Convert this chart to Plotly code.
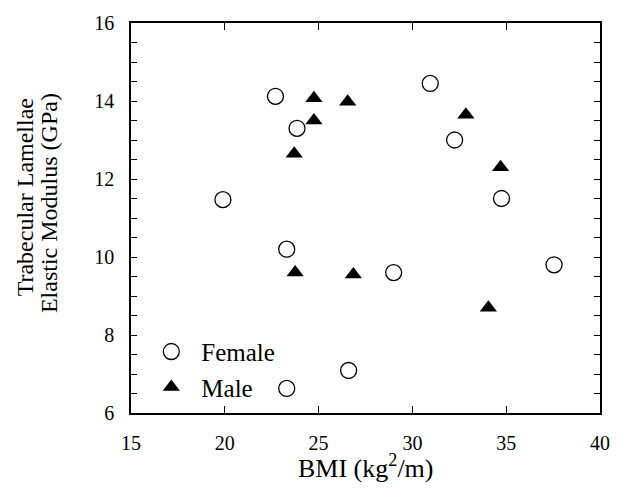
import plotly.graph_objects as go

female_bmi = [19.9, 22.7, 23.85, 23.3, 23.3, 26.6, 29.0, 30.95, 32.25, 34.75, 37.55]
female_mod = [11.47, 14.12, 13.3, 10.2, 6.63, 7.09, 9.6, 14.45, 13.0, 11.5, 9.8]
male_bmi = [24.75, 26.55, 24.75, 23.7, 23.75, 26.85, 32.85, 34.7, 34.05]
male_mod = [14.07, 13.98, 13.5, 12.65, 9.6, 9.55, 13.65, 12.3, 8.7]

x_ticks = [15, 20, 25, 30, 35, 40]
x_labels = ["15", "20", "25", "30", "35", "40"]
y_ticks = [6, 6.5, 7, 7.5, 8, 8.5, 9, 9.5, 10, 10.5, 11, 11.5, 12, 12.5, 13, 13.5, 14, 14.5, 15, 15.5, 16]
y_labels = ["6", "", "", "", "8", "", "", "", "10", "", "", "", "12", "", "", "", "14", "", "", "", "16"]

FONT = "Liberation Serif, Times New Roman, serif"

fig = go.Figure()
fig.add_trace(go.Scatter(
    x=female_bmi, y=female_mod, mode="markers", name="Female",
    marker=dict(symbol="circle-open", size=16, color="black", line=dict(width=1.3)),
))
fig.add_trace(go.Scatter(
    x=male_bmi, y=male_mod, mode="markers", name="Male",
    marker=dict(symbol="triangle-up", size=15, color="black"),
))

fig.update_layout(
    width=624, height=490,
    margin=dict(l=131, r=24, t=17, b=77),
    paper_bgcolor="white", plot_bgcolor="white",
    font=dict(family=FONT, size=20, color="black"),
    showlegend=True,
    legend=dict(x=0.022, y=0.216, xanchor="left", yanchor="top",
                bgcolor="rgba(0,0,0,0)", font=dict(size=25, family=FONT),
                itemwidth=50),
    xaxis=dict(range=[15, 40], tickvals=x_ticks, ticktext=x_labels,
               ticks="inside", ticklen=7, tickwidth=1.2, tickcolor="black",
               showline=True, linecolor="black", linewidth=1.6, mirror="allticks",
               showgrid=False, zeroline=False, ticklabelstandoff=11,
               tickfont=dict(size=20)),
    yaxis=dict(range=[6, 16], tickvals=y_ticks, ticktext=y_labels,
               ticks="inside", ticklen=6, tickwidth=1.2, tickcolor="black",
               showline=True, linecolor="black", linewidth=1.6, mirror="allticks",
               showgrid=False, zeroline=False, ticklabelstandoff=11,
               tickfont=dict(size=20)),
)

fig.add_annotation(text="BMI (kg<sup>2</sup>/m)", xref="paper", yref="paper",
                   x=0.5, y=-0.138, xanchor="center", yanchor="middle",
                   showarrow=False, font=dict(size=26, family=FONT))
fig.add_annotation(text="Trabecular Lamellae", xref="paper", yref="paper",
                   x=-0.226, y=0.553, xanchor="center", yanchor="middle", textangle=-90,
                   showarrow=False, font=dict(size=24, family=FONT))
fig.add_annotation(text="Elastic Modulus (GPa)", xref="paper", yref="paper",
                   x=-0.175, y=0.538, xanchor="center", yanchor="middle", textangle=-90,
                   showarrow=False, font=dict(size=24, family=FONT))

fig.write_html("out.html", config={"displayModeBar": False},
               post_script="document.body.style.margin='0';")
